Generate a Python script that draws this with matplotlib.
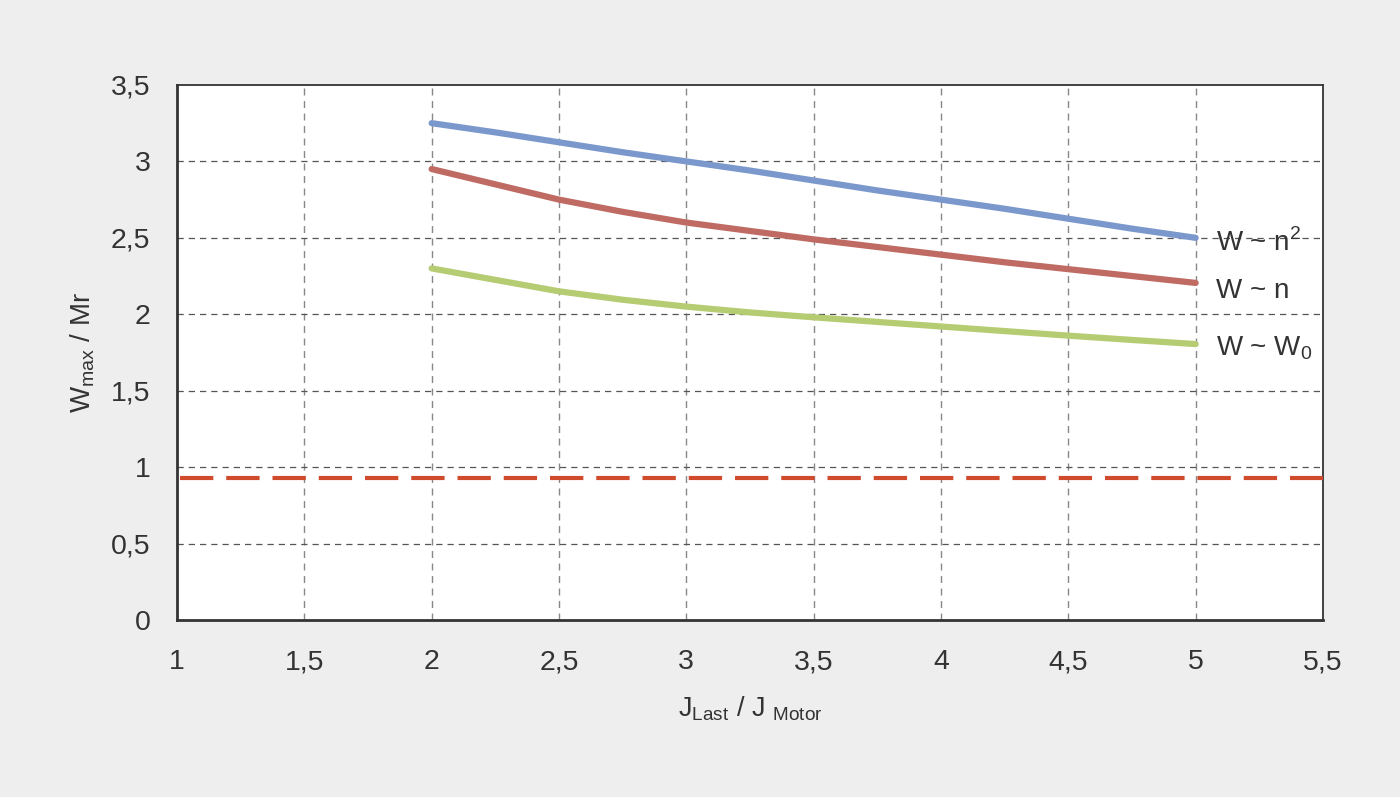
import numpy as np
import matplotlib.pyplot as plt
from matplotlib.ticker import FuncFormatter

# -----------------------------
# Data
# -----------------------------
j_ratio = [2, 2.25, 2.5, 2.75, 3, 3.25, 3.5, 3.75, 4, 4.25, 4.5, 4.75, 5]
w_n2 = [3.25, 3.19, 3.125, 3.06, 3.0, 2.94, 2.875, 2.81, 2.75, 2.69, 2.625, 2.56, 2.5]
w_n = [2.95, 2.85, 2.75, 2.67, 2.60, 2.545, 2.49, 2.44, 2.39, 2.34, 2.295, 2.25, 2.205]
w_w0 = [2.30, 2.225, 2.15, 2.095, 2.05, 2.012, 1.98, 1.95, 1.92, 1.89, 1.86, 1.832, 1.805]
limit = 0.93

series_labels = [r'W ~ n$^{\mathregular{2}}$', 'W ~ n', r'W ~ W$_{\mathregular{0}}$']
label_y = [2.47, 2.15, 1.78]

x_ticks = [1, 1.5, 2, 2.5, 3, 3.5, 4, 4.5, 5, 5.5]
y_ticks = [0, 0.5, 1, 1.5, 2, 2.5, 3, 3.5]

plt.rcParams['font.family'] = ['Liberation Sans', 'DejaVu Sans']
plt.rcParams['mathtext.fontset'] = 'custom'
plt.rcParams['mathtext.rm'] = 'Liberation Sans'

txt = '#333333'
bg = '#eeeeee'

fig = plt.figure(figsize=(14, 7.97), dpi=100, facecolor=bg)
ax = fig.add_axes([0.1264, 0.2221, 0.8186, 0.6713])
ax.set_facecolor('white')

# grid
for x in x_ticks[1:-1]:
    ax.axvline(x, color='#888888', lw=1, ls=(0, (5, 4)), zorder=1)
for y in y_ticks[1:-1]:
    ax.axhline(y, color='#555555', lw=0.9, ls=(0, (5, 4)), zorder=1)

# curves
line_kw = dict(lw=4.5, solid_capstyle='round', solid_joinstyle='round', zorder=3)
ax.plot(j_ratio, w_n2, color='#7b98cd', **line_kw)
ax.plot(j_ratio, w_n, color='#bf6b63', **line_kw)
ax.plot(j_ratio, w_w0, color='#b5cc72', **line_kw)

# limit line
ax.plot([1.01, 5.5], [limit, limit], color='#d04a2c', lw=3, dashes=(8, 3.1), zorder=3)

for lab, yy in zip(series_labels, label_y):
    ax.text(5.08, yy, lab, fontsize=20, color=txt, va='center', ha='left')

ax.set_xlim(1, 5.5)
ax.set_ylim(0, 3.5)
ax.set_xticks(x_ticks)
ax.set_yticks(y_ticks)
fmt = FuncFormatter(lambda v, p: ('%g' % v).replace('.', ','))
ax.xaxis.set_major_formatter(fmt)
ax.yaxis.set_major_formatter(fmt)
ax.tick_params(length=0, labelsize=20.5, labelcolor=txt)
ax.tick_params(axis='x', pad=21)
ax.tick_params(axis='y', pad=19)

for s in ax.spines.values():
    s.set_color('#333333')
    s.set_linewidth(1.3)
ax.spines['left'].set_linewidth(2)
ax.spines['bottom'].set_linewidth(2)

ax.set_xlabel(r'J$_{\mathregular{Last}}$ / J $_{\mathregular{Motor}}$', fontsize=19.5, color=txt, labelpad=14)
ax.set_ylabel(r'W$_{\mathregular{max}}$ / Mr', fontsize=20, color=txt, labelpad=10)

fig.savefig('out.png', dpi=100, facecolor=bg)
